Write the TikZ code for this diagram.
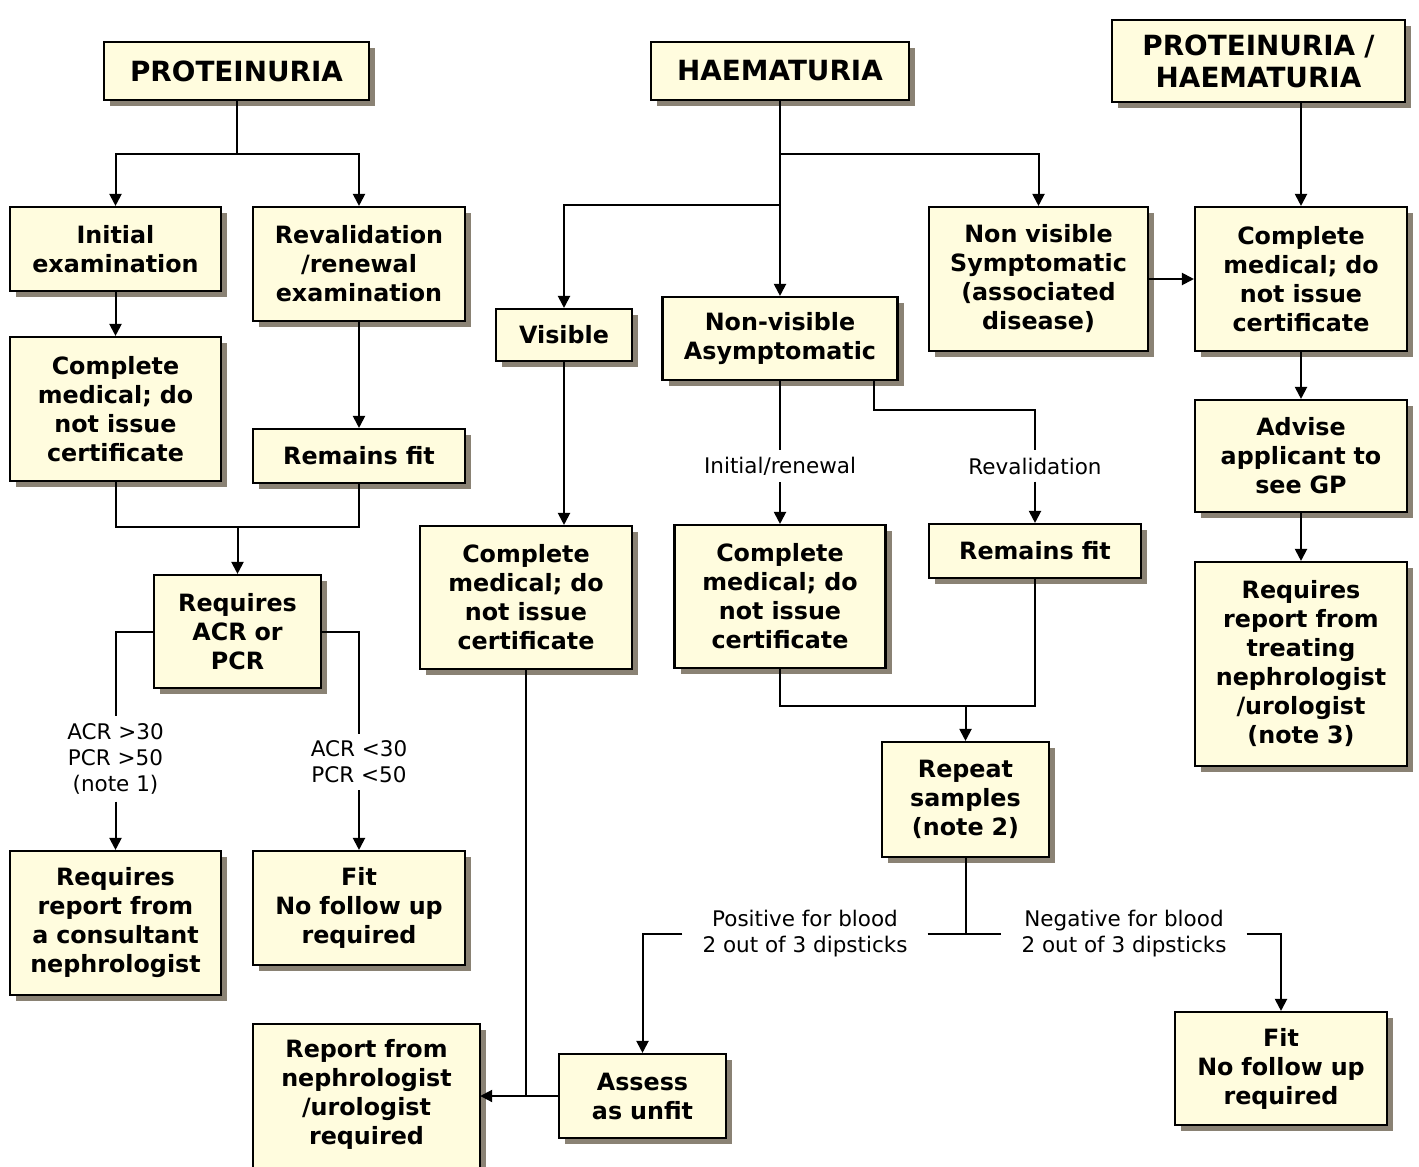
\documentclass[tikz,border=0pt]{standalone}
\usepackage{fontspec}
\setmainfont{DejaVu Sans}
\usetikzlibrary{arrows.meta,shadows,backgrounds}
\definecolor{boxfill}{RGB}{255,252,222}
\definecolor{shadowc}{RGB}{138,130,116}
\tikzset{
 boxshape/.style={draw=black, line width=2.1pt, fill=boxfill, drop shadow={shadow xshift=6pt, shadow yshift=-6pt, fill=shadowc, opacity=1}},
 boxfont/.style={inner sep=0pt, align=center, font=\bfseries\fontsize{23.8}{29}\selectfont},
 box/.style={boxshape, boxfont},
 hdr/.style={box, font=\bfseries\fontsize{27.8}{32}\selectfont},
 lbl/.style={inner xsep=20pt, inner ysep=7pt, align=center, font=\fontsize{21.5}{26}\selectfont},
 conn/.style={line width=2pt},
 arr/.style={conn, -{Triangle[length=12pt,width=12pt]}},
}
\begin{document}
\begin{tikzpicture}[x=1pt,y=-1pt]
\useasboundingbox (0,0) rectangle (1419,1167);
% headers
\node[hdr, minimum width=265pt, minimum height=58pt, text width=255pt] (P) at (236.5,71) {PROTEINURIA};
\node[hdr, minimum width=258pt, minimum height=58pt, text width=248pt] (H) at (780,71) {HAEMATURIA};
\node[hdr, minimum width=293pt, minimum height=82pt, text width=283pt] (PH) at (1258.5,61) {PROTEINURIA /\\HAEMATURIA};
% proteinuria column
\node[box, minimum width=211pt, minimum height=84pt, text width=200pt] (init) at (115.5,249) {Initial\\examination};
\node[box, minimum width=212pt, minimum height=114pt, text width=200pt] (reval) at (359,264) {Revalidation\\/renewal\\examination};
\node[box, minimum width=211pt, minimum height=144pt, text width=200pt] (cm1) at (115.5,409) {Complete\\medical; do\\not issue\\certificate};
\node[box, minimum width=212pt, minimum height=54pt, text width=200pt] (rf1) at (359,456) {Remains fit};
\node[box, minimum width=167pt, minimum height=113pt, text width=157pt] (acr) at (237.5,631.5) {Requires\\ACR or\\PCR};
\node[box, minimum width=211pt, minimum height=144pt, text width=200pt] (cons) at (115.5,923) {Requires\\report from\\a consultant\\nephrologist};
\node[box, minimum width=212pt, minimum height=114pt, text width=200pt] (fit1) at (359,908) {Fit\\No follow up\\required};
\node[lbl] (l1) at (115.5,759) {ACR {>}30\\PCR {>}50\\(note 1)};
\node[lbl] (l2) at (359,762) {ACR {<}30\\PCR {<}50};
% haematuria column
\node[box, minimum width=136pt, minimum height=52pt, text width=126pt] (vis) at (564,335) {Visible};
\node[box, minimum width=235pt, minimum height=83pt, text width=225pt] (nva) at (780,338.5) {Non-visible\\Asymptomatic};
\node[box, minimum width=219pt, minimum height=144pt, text width=209pt] (nvs) at (1038.5,279) {Non visible\\Symptomatic\\(associated\\disease)};
\node[box, minimum width=212pt, minimum height=143pt, text width=200pt] (cm2) at (526,597.5) {Complete\\medical; do\\not issue\\certificate};
\node[box, minimum width=211pt, minimum height=143pt, text width=200pt] (cm3) at (780,596.5) {Complete\\medical; do\\not issue\\certificate};
\node[box, minimum width=212pt, minimum height=54pt, text width=200pt] (rf2) at (1035,551) {Remains fit};
\node[box, minimum width=167pt, minimum height=115pt, text width=157pt] (rep) at (965.5,799.5) {Repeat\\samples\\(note 2)};
\node[box, minimum width=212pt, minimum height=113pt, text width=200pt] (fit2) at (1281,1068.5) {Fit\\No follow up\\required};
\node[box, minimum width=167pt, minimum height=84pt, text width=157pt] (assess) at (642.5,1096) {Assess\\as unfit};
\node[boxfont, minimum width=227pt, minimum height=140pt, text width=215pt] (rpt) at (366.5,1094) {Report from\\nephrologist\\/urologist\\required};
\begin{scope}[on background layer]
\path[boxshape] (rpt.north west) rectangle ([yshift=-30pt]rpt.south east);
\end{scope}
\node[lbl] (l3) at (780,466) {Initial/renewal};
\node[lbl] (l4) at (1035,466) {Revalidation};
\node[lbl] (l5) at (805,934) {Positive for blood\\2 out of 3 dipsticks};
\node[lbl] (l6) at (1124,934) {Negative for blood\\2 out of 3 dipsticks};
% right column
\node[box, minimum width=212pt, minimum height=144pt, text width=200pt] (cm4) at (1301,279) {Complete\\medical; do\\not issue\\certificate};
\node[box, minimum width=212pt, minimum height=112pt, text width=200pt] (adv) at (1301,456) {Advise\\applicant to\\see GP};
\node[box, minimum width=212pt, minimum height=204pt, text width=200pt] (treat) at (1301,664) {Requires\\report from\\treating\\nephrologist\\/urologist\\(note 3)};
% coordinates
\coordinate (pb) at (236.5,154);
\coordinate (j1) at (237.5,527);
\coordinate (hb1) at (780,154);
\coordinate (hb2) at (780,205);
\coordinate (k1) at (874,410);
\coordinate (j2) at (965.5,706);
% proteinuria connectors
\draw[conn] (P.south) -- (pb);
\draw[arr] (pb) -| (init.north);
\draw[arr] (pb) -| (reval.north);
\draw[arr] (init.south) -- (cm1.north);
\draw[arr] (reval.south) -- (rf1.north);
\draw[conn] (cm1.south) |- (j1) -| (rf1.south);
\draw[arr] (j1) -- (acr.north);
\draw[conn] (acr.west) -| (l1.north);
\draw[arr] (l1.south) -- (cons.north);
\draw[conn] (acr.east) -| (l2.north);
\draw[arr] (l2.south) -- (fit1.north);
% haematuria connectors
\draw[arr] (H.south) -- (nva.north);
\draw[arr] (hb1) -| (nvs.north);
\draw[arr] (hb2) -| (vis.north);
\draw[arr] (nvs.east) -- (cm4.west);
\draw[arr] (vis.south) -- (vis.south |- cm2.north);
\draw[conn] (nva.south) -- (l3.north);
\draw[arr] (l3.south) -- (cm3.north);
\draw[conn] (nva.south -| k1) -- (k1) -| (l4.north);
\draw[arr] (l4.south) -- (rf2.north);
\draw[conn] (cm3.south) |- (j2);
\draw[conn] (rf2.south) |- (j2);
\draw[arr] (j2) -- (rep.north);
\draw[conn] (rep.south) -- (rep.south |- l5.east);
\draw[conn] (l5.east) -- (l6.west);
\draw[arr] (l5.west) -| (assess.north);
\draw[arr] (l6.east) -| (fit2.north);
\draw[conn] (cm2.south) -- (cm2.south |- assess.west);
\draw[arr] (assess.west) -- (assess.west -| rpt.east);
% right connectors
\draw[arr] (cm4.north |- PH.south) -- (cm4.north);
\draw[arr] (cm4.south) -- (adv.north);
\draw[arr] (adv.south) -- (treat.north);
\end{tikzpicture}
\end{document}
